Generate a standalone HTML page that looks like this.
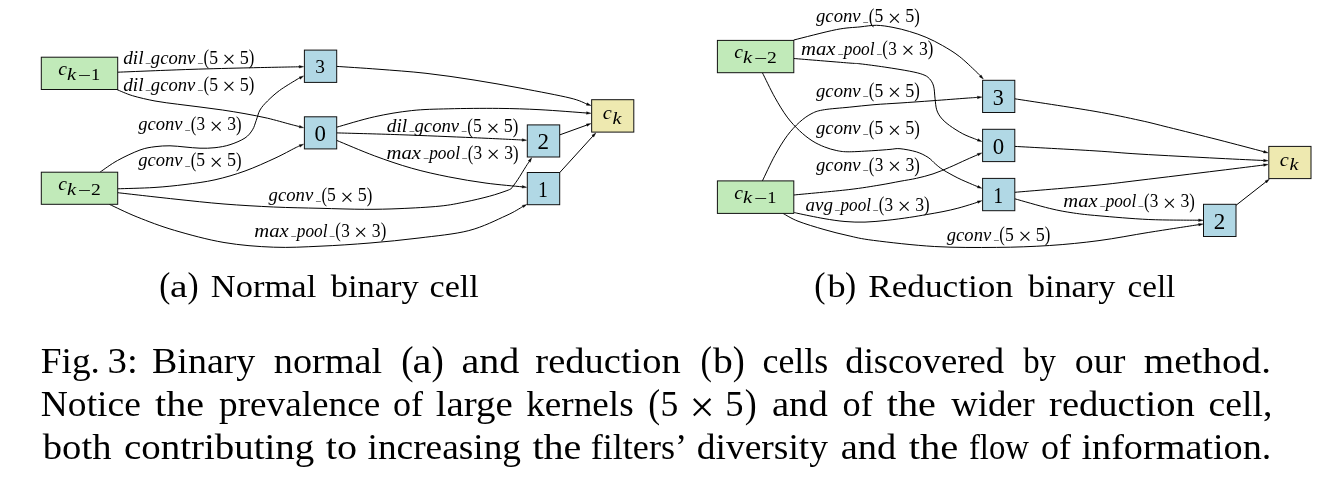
<!DOCTYPE html>
<html><head><meta charset="utf-8"><title>Fig. 3</title>
<style>html,body{margin:0;padding:0;background:#fff;}svg{display:block;will-change:transform;}</style></head>
<body>
<svg width="1334" height="484" viewBox="0 0 1334 484" font-family='"Liberation Serif", serif' fill="#000">
<rect width="1334" height="484" fill="#fff"/>
<path d="M117.70 72.20 C129.75 71.73 167.95 70.13 190.00 69.40 C212.05 68.67 231.80 68.23 250.00 67.80 C268.20 67.37 291.00 66.96 299.20 66.79" fill="none" stroke="#000" stroke-width="1" stroke-linejoin="round"/>
<polygon points="303.60,66.70 299.23,68.04 299.18,65.54" fill="#000" stroke="#000" stroke-width="0.4"/>
<path d="M116.75 89.50 C119.38 90.53 126.12 93.78 132.50 95.70 C138.88 97.62 147.50 99.58 155.00 101.00 C162.50 102.42 170.00 103.20 177.50 104.20 C185.00 105.20 192.50 106.03 200.00 107.00 C207.50 107.97 215.00 108.88 222.50 110.00 C230.00 111.12 237.50 112.33 245.00 113.70 C252.50 115.07 260.00 116.45 267.50 118.20 C275.00 119.95 284.69 122.80 290.00 124.20 C295.31 125.60 297.78 126.20 299.34 126.60" fill="none" stroke="#000" stroke-width="1" stroke-linejoin="round"/>
<polygon points="303.60,127.70 299.03,127.81 299.65,125.39" fill="#000" stroke="#000" stroke-width="0.4"/>
<path d="M100.20 172.00 C103.08 170.08 110.87 164.17 117.50 160.50 C124.13 156.83 133.75 152.30 140.00 150.00 C146.25 147.70 150.00 147.40 155.00 146.70 C160.00 146.00 165.00 145.75 170.00 145.80 C175.00 145.85 180.00 146.60 185.00 147.00 C190.00 147.40 195.00 148.08 200.00 148.20 C205.00 148.32 210.00 148.28 215.00 147.70 C220.00 147.12 225.00 146.32 230.00 144.70 C235.00 143.08 241.25 140.48 245.00 138.00 C248.75 135.52 250.63 132.72 252.50 129.80 C254.37 126.88 254.95 123.80 256.20 120.50 C257.45 117.20 258.12 113.25 260.00 110.00 C261.88 106.75 264.25 104.25 267.50 101.00 C270.75 97.75 274.75 94.00 279.50 90.50 C284.25 87.00 292.63 82.08 296.00 80.00 C299.37 77.92 299.09 78.37 299.71 78.05" fill="none" stroke="#000" stroke-width="1" stroke-linejoin="round"/>
<polygon points="303.60,76.00 300.29,79.16 299.12,76.94" fill="#000" stroke="#000" stroke-width="0.4"/>
<path d="M117.70 188.80 C123.75 188.58 142.78 188.22 154.00 187.50 C165.22 186.78 174.83 185.78 185.00 184.50 C195.17 183.22 205.00 182.05 215.00 179.80 C225.00 177.55 235.00 174.60 245.00 171.00 C255.00 167.40 266.67 162.03 275.00 158.20 C283.33 154.37 290.90 150.04 295.00 148.00 C299.10 145.96 298.81 146.32 299.58 145.98" fill="none" stroke="#000" stroke-width="1" stroke-linejoin="round"/>
<polygon points="303.60,144.20 300.08,147.12 299.07,144.83" fill="#000" stroke="#000" stroke-width="0.4"/>
<path d="M117.70 192.70 C127.08 193.75 156.28 197.12 174.00 199.00 C191.72 200.88 207.40 202.67 224.00 204.00 C240.60 205.33 257.60 206.28 273.60 207.00 C289.60 207.72 304.83 207.92 320.00 208.30 C335.17 208.68 351.27 209.25 364.60 209.30 C377.93 209.35 387.43 209.13 400.00 208.60 C412.57 208.07 429.20 207.20 440.00 206.10 C450.80 205.00 456.53 203.65 464.80 202.00 C473.07 200.35 482.72 198.05 489.60 196.20 C496.48 194.35 502.52 192.13 506.10 190.90 C509.68 189.67 510.27 189.15 511.10 188.80 C512.20 187.28 515.22 183.43 517.70 179.70 C520.18 175.97 524.07 169.43 526.00 166.40 C527.93 163.37 528.72 162.33 529.26 161.51" fill="none" stroke="#000" stroke-width="1" stroke-linejoin="round"/>
<polygon points="531.70,157.85 530.30,162.20 528.22,160.82" fill="#000" stroke="#000" stroke-width="0.4"/>
<path d="M109.30 204.30 C113.95 206.42 126.35 212.67 137.20 217.00 C148.05 221.33 159.93 226.05 174.40 230.30 C188.87 234.55 207.47 239.68 224.00 242.50 C240.53 245.32 257.60 246.58 273.60 247.20 C289.60 247.82 303.93 246.90 320.00 246.20 C336.07 245.50 353.50 244.37 370.00 243.00 C386.50 241.63 402.53 240.07 419.00 238.00 C435.47 235.93 454.30 234.32 468.80 230.60 C483.30 226.88 496.98 219.72 506.00 215.70 C515.02 211.68 520.11 208.03 522.93 206.50" fill="none" stroke="#000" stroke-width="1" stroke-linejoin="round"/>
<polygon points="526.80,204.40 523.53,207.60 522.34,205.40" fill="#000" stroke="#000" stroke-width="0.4"/>
<path d="M336.70 66.40 C343.58 66.87 363.12 68.05 378.00 69.20 C392.88 70.35 410.00 71.50 426.00 73.30 C442.00 75.10 458.00 77.48 474.00 80.00 C490.00 82.52 506.00 85.40 522.00 88.40 C538.00 91.40 559.21 95.40 570.00 98.00 C580.79 100.60 583.97 103.01 586.76 104.01" fill="none" stroke="#000" stroke-width="1" stroke-linejoin="round"/>
<polygon points="590.90,105.50 586.34,105.19 587.18,102.84" fill="#000" stroke="#000" stroke-width="0.4"/>
<path d="M336.70 127.20 C342.98 125.47 361.92 119.57 374.40 116.80 C386.88 114.03 399.20 111.93 411.60 110.60 C424.00 109.27 434.33 109.17 448.80 108.80 C463.27 108.43 483.20 108.25 498.40 108.40 C513.60 108.55 525.31 108.94 540.00 109.70 C554.69 110.46 578.76 112.44 586.51 112.99" fill="none" stroke="#000" stroke-width="1" stroke-linejoin="round"/>
<polygon points="590.90,113.30 586.42,114.24 586.60,111.74" fill="#000" stroke="#000" stroke-width="0.4"/>
<path d="M336.70 132.90 C347.12 133.20 376.38 133.90 399.20 134.70 C422.02 135.50 453.10 136.82 473.60 137.70 C494.10 138.58 514.10 139.61 522.20 139.99" fill="none" stroke="#000" stroke-width="1" stroke-linejoin="round"/>
<polygon points="526.60,140.20 522.15,141.24 522.26,138.74" fill="#000" stroke="#000" stroke-width="0.4"/>
<path d="M336.70 140.40 C342.98 142.97 361.92 151.17 374.40 155.80 C386.88 160.43 399.20 164.68 411.60 168.20 C424.00 171.72 436.40 174.42 448.80 176.90 C461.20 179.38 473.76 181.44 486.00 183.10 C498.24 184.76 516.19 186.22 522.22 186.85" fill="none" stroke="#000" stroke-width="1" stroke-linejoin="round"/>
<polygon points="526.60,187.30 522.09,188.09 522.35,185.60" fill="#000" stroke="#000" stroke-width="0.4"/>
<path d="M559.70 134.90 L586.76 125.10" fill="none" stroke="#000" stroke-width="1" stroke-linejoin="round"/>
<polygon points="590.90,123.60 587.19,126.27 586.34,123.92" fill="#000" stroke="#000" stroke-width="0.4"/>
<path d="M559.70 172.60 L592.84 136.16" fill="none" stroke="#000" stroke-width="1" stroke-linejoin="round"/>
<polygon points="595.80,132.90 593.76,137.00 591.92,135.31" fill="#000" stroke="#000" stroke-width="0.4"/>
<rect x="41.30" y="57.20" width="76.40" height="32.30" fill="#c1eab9" stroke="#111" stroke-width="1"/>
<rect x="41.30" y="172.20" width="76.40" height="32.10" fill="#c1eab9" stroke="#111" stroke-width="1"/>
<rect x="304.40" y="50.10" width="32.30" height="32.30" fill="#b1d8e5" stroke="#111" stroke-width="1"/>
<rect x="304.40" y="116.80" width="32.30" height="32.10" fill="#b1d8e5" stroke="#111" stroke-width="1"/>
<rect x="527.30" y="124.90" width="32.40" height="32.10" fill="#b1d8e5" stroke="#111" stroke-width="1"/>
<rect x="527.30" y="172.50" width="32.40" height="32.20" fill="#b1d8e5" stroke="#111" stroke-width="1"/>
<rect x="591.65" y="99.70" width="42.15" height="32.40" fill="#eee9b0" stroke="#111" stroke-width="1"/>
<text transform="matrix(0.9814 0 0 0.9896 58.21 74.85)" font-size="20" font-style="italic">c</text>
<text transform="matrix(1.0292 0 0 0.8669 66.98 79.70)" font-size="20" font-style="italic">k</text>
<text transform="matrix(1.1720 0 0 0.8500 77.83 80.73)" font-size="20">−</text>
<text transform="matrix(0.9220 0 0 0.8826 91.09 79.70)" font-size="20">1</text>
<text transform="matrix(0.9814 0 0 0.9896 58.21 189.85)" font-size="20" font-style="italic">c</text>
<text transform="matrix(1.0292 0 0 0.8669 66.98 194.70)" font-size="20" font-style="italic">k</text>
<text transform="matrix(1.1720 0 0 0.8500 77.83 195.73)" font-size="20">−</text>
<text transform="matrix(0.9814 0 0 0.8868 90.97 194.80)" font-size="20">2</text>
<text transform="matrix(0.9697 0 0 0.9591 315.33 73.21)" font-size="20">3</text>
<text transform="matrix(1.1412 0 0 1.1481 314.54 141.47)" font-size="20">0</text>
<text transform="matrix(1.1553 0 0 1.1396 537.57 149.40)" font-size="20">2</text>
<text transform="matrix(0.9929 0 0 1.1477 537.96 197.05)" font-size="20">1</text>
<text transform="matrix(1.0186 0 0 0.9792 602.69 118.80)" font-size="20" font-style="italic">c</text>
<text transform="matrix(1.0058 0 0 0.8417 612.40 123.70)" font-size="20" font-style="italic">k</text>
<text transform="matrix(1.0788 0 0 1 123.18 63.66)" font-size="17.9" font-style="italic">dil</text>
<text transform="matrix(0.4772 0 0 0.8500 145.80 62.15)" font-size="20" fill="#666">_</text>
<text transform="matrix(1.0398 0 0 1 150.84 63.66)" font-size="17.9" font-style="italic">gconv</text>
<text transform="matrix(0.4772 0 0 0.8500 198.00 62.15)" font-size="20" fill="#666">_</text>
<text transform="matrix(0.8350 0 0 1.0468 203.44 64.41)" font-size="20">(</text>
<text transform="matrix(0.8820 0 0 0.9361 209.14 63.72)" font-size="20">5</text>
<text transform="matrix(1.1852 0 0 1.1534 222.25 67.16)" font-size="20">×</text>
<text transform="matrix(0.9068 0 0 0.9361 239.81 63.72)" font-size="20">5</text>
<text transform="matrix(0.8350 0 0 1.0468 248.81 64.41)" font-size="20">)</text>
<text transform="matrix(1.0788 0 0 1 123.18 90.60)" font-size="17.9" font-style="italic">dil</text>
<text transform="matrix(0.4772 0 0 0.8500 145.80 89.09)" font-size="20" fill="#666">_</text>
<text transform="matrix(1.0398 0 0 1 150.84 90.60)" font-size="17.9" font-style="italic">gconv</text>
<text transform="matrix(0.4772 0 0 0.8500 198.00 89.09)" font-size="20" fill="#666">_</text>
<text transform="matrix(0.8350 0 0 1.0468 203.44 91.35)" font-size="20">(</text>
<text transform="matrix(0.8820 0 0 0.9361 209.14 90.66)" font-size="20">5</text>
<text transform="matrix(1.1852 0 0 1.1534 222.25 94.10)" font-size="20">×</text>
<text transform="matrix(0.9068 0 0 0.9361 239.81 90.66)" font-size="20">5</text>
<text transform="matrix(0.8350 0 0 1.0468 248.81 91.35)" font-size="20">)</text>
<text transform="matrix(1.0372 0 0 1 138.20 130.30)" font-size="17.9" font-style="italic">gconv</text>
<text transform="matrix(0.4760 0 0 0.8500 185.24 128.79)" font-size="20" fill="#666">_</text>
<text transform="matrix(0.8350 0 0 1.0468 190.67 131.05)" font-size="20">(</text>
<text transform="matrix(0.8606 0 0 0.9257 196.56 130.36)" font-size="20">3</text>
<text transform="matrix(1.1852 0 0 1.1534 209.48 133.80)" font-size="20">×</text>
<text transform="matrix(0.8848 0 0 0.9257 227.24 130.36)" font-size="20">3</text>
<text transform="matrix(0.8350 0 0 1.0468 236.03 131.05)" font-size="20">)</text>
<text transform="matrix(1.0372 0 0 1 138.20 166.30)" font-size="17.9" font-style="italic">gconv</text>
<text transform="matrix(0.4760 0 0 0.8500 185.24 164.79)" font-size="20" fill="#666">_</text>
<text transform="matrix(0.8350 0 0 1.0468 190.67 167.05)" font-size="20">(</text>
<text transform="matrix(0.8820 0 0 0.9361 196.36 166.36)" font-size="20">5</text>
<text transform="matrix(1.1852 0 0 1.1534 209.48 169.80)" font-size="20">×</text>
<text transform="matrix(0.9068 0 0 0.9361 227.03 166.36)" font-size="20">5</text>
<text transform="matrix(0.8350 0 0 1.0468 236.03 167.05)" font-size="20">)</text>
<text transform="matrix(1.0834 0 0 1 386.72 132.00)" font-size="17.9" font-style="italic">dil</text>
<text transform="matrix(0.4792 0 0 0.8500 409.43 130.49)" font-size="20" fill="#666">_</text>
<text transform="matrix(1.0443 0 0 1 414.50 132.00)" font-size="17.9" font-style="italic">gconv</text>
<text transform="matrix(0.4792 0 0 0.8500 461.86 130.49)" font-size="20" fill="#666">_</text>
<text transform="matrix(0.8350 0 0 1.0468 467.33 132.75)" font-size="20">(</text>
<text transform="matrix(0.8820 0 0 0.9361 473.02 132.06)" font-size="20">5</text>
<text transform="matrix(1.1852 0 0 1.1534 486.14 135.50)" font-size="20">×</text>
<text transform="matrix(0.9068 0 0 0.9361 503.69 132.06)" font-size="20">5</text>
<text transform="matrix(0.8350 0 0 1.0468 512.69 132.75)" font-size="20">)</text>
<text transform="matrix(1.1566 0 0 1 386.58 158.80)" font-size="17.9" font-style="italic">max</text>
<text transform="matrix(0.4785 0 0 0.8500 423.63 157.29)" font-size="20" fill="#666">_</text>
<text transform="matrix(0.9672 0 0 1 429.18 158.80)" font-size="17.9" font-style="italic">pool</text>
<text transform="matrix(0.4785 0 0 0.8500 462.25 157.29)" font-size="20" fill="#666">_</text>
<text transform="matrix(0.8350 0 0 1.0468 467.71 159.55)" font-size="20">(</text>
<text transform="matrix(0.8606 0 0 0.9257 473.60 158.86)" font-size="20">3</text>
<text transform="matrix(1.1852 0 0 1.1534 486.52 162.30)" font-size="20">×</text>
<text transform="matrix(0.8848 0 0 0.9257 504.27 158.86)" font-size="20">3</text>
<text transform="matrix(0.8350 0 0 1.0468 513.07 159.55)" font-size="20">)</text>
<text transform="matrix(1.0442 0 0 1 268.60 201.30)" font-size="17.9" font-style="italic">gconv</text>
<text transform="matrix(0.4792 0 0 0.8500 315.96 199.79)" font-size="20" fill="#666">_</text>
<text transform="matrix(0.8350 0 0 1.0468 321.43 202.05)" font-size="20">(</text>
<text transform="matrix(0.8820 0 0 0.9361 327.12 201.36)" font-size="20">5</text>
<text transform="matrix(1.1852 0 0 1.1534 340.24 204.80)" font-size="20">×</text>
<text transform="matrix(0.9068 0 0 0.9361 357.80 201.36)" font-size="20">5</text>
<text transform="matrix(0.8350 0 0 1.0468 366.80 202.05)" font-size="20">)</text>
<text transform="matrix(1.1548 0 0 1 254.28 236.60)" font-size="17.9" font-style="italic">max</text>
<text transform="matrix(0.4777 0 0 0.8500 291.27 235.09)" font-size="20" fill="#666">_</text>
<text transform="matrix(0.9657 0 0 1 296.82 236.60)" font-size="17.9" font-style="italic">pool</text>
<text transform="matrix(0.4777 0 0 0.8500 329.84 235.09)" font-size="20" fill="#666">_</text>
<text transform="matrix(0.8350 0 0 1.0468 335.28 237.35)" font-size="20">(</text>
<text transform="matrix(0.8606 0 0 0.9257 341.17 236.66)" font-size="20">3</text>
<text transform="matrix(1.1852 0 0 1.1534 354.09 240.10)" font-size="20">×</text>
<text transform="matrix(0.8848 0 0 0.9257 371.85 236.66)" font-size="20">3</text>
<text transform="matrix(0.8350 0 0 1.0468 380.65 237.35)" font-size="20">)</text>
<path d="M793.80 40.00 C800.90 38.27 825.37 31.78 836.40 29.60 C847.43 27.42 853.32 27.62 860.00 26.90 C866.68 26.18 871.00 25.22 876.50 25.30 C882.00 25.38 887.48 26.37 893.00 27.40 C898.52 28.43 904.08 29.85 909.60 31.50 C915.12 33.15 920.60 34.95 926.10 37.30 C931.60 39.65 937.08 42.43 942.60 45.60 C948.12 48.77 953.68 52.03 959.20 56.30 C964.72 60.57 972.20 67.96 975.70 71.20 C979.20 74.44 979.46 75.01 980.21 75.77" fill="none" stroke="#000" stroke-width="1" stroke-linejoin="round"/>
<polygon points="983.30,78.90 979.32,76.65 981.10,74.89" fill="#000" stroke="#000" stroke-width="0.4"/>
<path d="M793.80 58.50 C802.97 59.25 837.77 62.12 848.80 63.00 C859.83 63.88 854.00 63.12 860.00 63.80 C866.00 64.48 876.53 65.87 884.80 67.10 C893.07 68.33 903.27 69.97 909.60 71.20 C915.93 72.43 919.50 73.27 922.80 74.50 C926.10 75.73 927.60 76.67 929.40 78.60 C931.20 80.53 932.67 82.83 933.60 86.10 C934.53 89.37 934.48 94.25 935.00 98.20 C935.52 102.15 935.65 106.50 936.70 109.80 C937.75 113.10 939.15 115.38 941.30 118.00 C943.45 120.62 946.02 122.87 949.60 125.50 C953.18 128.13 958.67 131.60 962.80 133.80 C966.93 136.00 971.92 137.68 974.40 138.70 C976.88 139.72 977.14 139.74 977.68 139.94" fill="none" stroke="#000" stroke-width="1" stroke-linejoin="round"/>
<polygon points="981.80,141.50 977.24,141.11 978.13,138.77" fill="#000" stroke="#000" stroke-width="0.4"/>
<path d="M762.40 72.70 C764.47 76.80 770.67 89.90 774.80 97.30 C778.93 104.70 783.07 111.52 787.20 117.10 C791.33 122.68 795.47 126.87 799.60 130.80 C803.73 134.73 807.87 138.02 812.00 140.70 C816.13 143.38 820.27 145.25 824.40 146.90 C828.53 148.55 832.67 149.78 836.80 150.60 C840.93 151.42 843.00 151.80 849.20 151.80 C855.40 151.80 867.20 151.00 874.00 150.60 C880.80 150.20 885.67 149.72 890.00 149.40 C894.33 149.08 895.58 148.28 900.00 148.70 C904.42 149.12 911.82 150.45 916.50 151.90 C921.18 153.35 924.93 155.38 928.10 157.40 C931.27 159.42 933.02 161.94 935.50 164.00 C937.98 166.06 939.27 167.42 943.00 169.75 C946.73 172.08 952.90 175.53 957.85 178.00 C962.80 180.47 969.39 183.16 972.70 184.60 C976.01 186.04 976.89 186.30 977.72 186.64" fill="none" stroke="#000" stroke-width="1" stroke-linejoin="round"/>
<polygon points="981.80,188.30 977.25,187.80 978.19,185.48" fill="#000" stroke="#000" stroke-width="0.4"/>
<path d="M762.40 180.90 C764.47 176.68 770.67 163.13 774.80 155.60 C778.93 148.07 783.07 141.28 787.20 135.70 C791.33 130.12 795.47 125.82 799.60 122.10 C803.73 118.38 807.87 115.47 812.00 113.40 C816.13 111.33 818.20 110.73 824.40 109.70 C830.60 108.67 840.93 108.03 849.20 107.20 C857.47 106.37 865.53 105.40 874.00 104.70 C882.47 104.00 890.17 103.67 900.00 103.00 C909.83 102.33 922.00 101.50 933.00 100.70 C944.00 99.90 958.60 98.75 966.00 98.20 C973.40 97.65 975.51 97.54 977.41 97.41" fill="none" stroke="#000" stroke-width="1" stroke-linejoin="round"/>
<polygon points="981.80,97.10 977.50,98.65 977.32,96.16" fill="#000" stroke="#000" stroke-width="0.4"/>
<path d="M793.80 195.00 C802.97 194.10 834.43 191.27 848.80 189.60 C863.17 187.93 871.47 186.38 880.00 185.00 C888.53 183.62 893.92 182.42 900.00 181.30 C906.08 180.18 911.00 179.53 916.50 178.30 C922.00 177.07 927.48 175.73 933.00 173.90 C938.52 172.07 944.08 169.65 949.60 167.30 C955.12 164.95 961.40 161.90 966.10 159.80 C970.80 157.70 975.83 155.53 977.77 154.67" fill="none" stroke="#000" stroke-width="1" stroke-linejoin="round"/>
<polygon points="981.80,152.90 978.27,155.81 977.27,153.53" fill="#000" stroke="#000" stroke-width="0.4"/>
<path d="M793.80 212.00 C794.50 212.23 792.97 212.30 798.00 213.40 C803.03 214.50 816.17 217.25 824.00 218.60 C831.83 219.95 838.17 220.92 845.00 221.50 C851.83 222.08 857.97 222.30 865.00 222.10 C872.03 221.90 879.78 221.08 887.20 220.30 C894.62 219.52 902.98 218.35 909.50 217.40 C916.02 216.45 920.72 215.57 926.30 214.60 C931.88 213.63 937.74 212.67 943.00 211.60 C948.26 210.53 952.90 209.50 957.85 208.20 C962.80 206.90 969.40 204.81 972.70 203.80 C976.00 202.79 976.81 202.40 977.64 202.12" fill="none" stroke="#000" stroke-width="1" stroke-linejoin="round"/>
<polygon points="981.80,200.70 978.04,203.30 977.23,200.94" fill="#000" stroke="#000" stroke-width="0.4"/>
<path d="M783.00 213.40 C785.50 214.70 791.17 218.52 798.00 221.20 C804.83 223.88 815.67 227.10 824.00 229.50 C832.33 231.90 839.73 233.78 848.00 235.60 C856.27 237.42 859.20 238.58 873.60 240.40 C888.00 242.22 913.93 245.33 934.40 246.50 C954.87 247.67 977.20 247.57 996.40 247.40 C1015.60 247.23 1032.50 246.63 1049.60 245.50 C1066.70 244.37 1082.47 242.78 1099.00 240.60 C1115.53 238.42 1132.19 235.05 1148.80 232.40 C1165.41 229.75 1190.34 225.96 1198.65 224.67" fill="none" stroke="#000" stroke-width="1" stroke-linejoin="round"/>
<polygon points="1203.00,224.00 1198.84,225.91 1198.46,223.44" fill="#000" stroke="#000" stroke-width="0.4"/>
<path d="M1014.80 98.80 C1028.00 100.87 1073.13 107.60 1094.00 111.20 C1114.87 114.80 1127.60 117.72 1140.00 120.40 C1152.40 123.08 1155.40 124.08 1168.40 127.30 C1181.40 130.52 1202.11 135.64 1218.00 139.70 C1233.89 143.76 1256.12 149.69 1263.74 151.68" fill="none" stroke="#000" stroke-width="1" stroke-linejoin="round"/>
<polygon points="1268.00,152.80 1263.43,152.89 1264.06,150.48" fill="#000" stroke="#000" stroke-width="0.4"/>
<path d="M1014.80 146.40 C1028.00 147.13 1073.13 149.52 1094.00 150.80 C1114.87 152.08 1119.33 152.85 1140.00 154.10 C1160.67 155.35 1197.40 157.24 1218.00 158.30 C1238.60 159.36 1256.00 160.12 1263.61 160.49" fill="none" stroke="#000" stroke-width="1" stroke-linejoin="round"/>
<polygon points="1268.00,160.70 1263.55,161.74 1263.66,159.24" fill="#000" stroke="#000" stroke-width="0.4"/>
<path d="M1014.80 192.30 C1028.00 191.17 1073.13 187.52 1094.00 185.50 C1114.87 183.48 1119.33 182.67 1140.00 180.20 C1160.67 177.73 1197.39 173.23 1218.00 170.70 C1238.61 168.17 1256.03 165.98 1263.63 165.04" fill="none" stroke="#000" stroke-width="1" stroke-linejoin="round"/>
<polygon points="1268.00,164.50 1263.79,166.28 1263.48,163.80" fill="#000" stroke="#000" stroke-width="0.4"/>
<path d="M1014.80 198.80 C1020.60 200.40 1039.80 206.03 1049.60 208.40 C1059.40 210.77 1065.37 211.77 1073.60 213.00 C1081.83 214.23 1086.47 214.72 1099.00 215.80 C1111.53 216.88 1132.20 218.76 1148.80 219.50 C1165.40 220.24 1190.30 220.11 1198.60 220.24" fill="none" stroke="#000" stroke-width="1" stroke-linejoin="round"/>
<polygon points="1203.00,220.30 1198.58,221.48 1198.62,218.99" fill="#000" stroke="#000" stroke-width="0.4"/>
<path d="M1236.00 205.30 L1265.84 181.91" fill="none" stroke="#000" stroke-width="1" stroke-linejoin="round"/>
<polygon points="1269.30,179.20 1266.61,182.90 1265.07,180.93" fill="#000" stroke="#000" stroke-width="0.4"/>
<rect x="717.40" y="40.40" width="76.40" height="32.30" fill="#c1eab9" stroke="#111" stroke-width="1"/>
<rect x="717.40" y="180.90" width="76.40" height="32.50" fill="#c1eab9" stroke="#111" stroke-width="1"/>
<rect x="982.60" y="80.30" width="32.20" height="32.20" fill="#b1d8e5" stroke="#111" stroke-width="1"/>
<rect x="982.60" y="129.30" width="32.20" height="32.30" fill="#b1d8e5" stroke="#111" stroke-width="1"/>
<rect x="982.60" y="178.40" width="32.20" height="32.30" fill="#b1d8e5" stroke="#111" stroke-width="1"/>
<rect x="1203.50" y="204.30" width="32.50" height="32.20" fill="#b1d8e5" stroke="#111" stroke-width="1"/>
<rect x="1268.80" y="146.40" width="42.20" height="32.20" fill="#eee9b0" stroke="#111" stroke-width="1"/>
<text transform="matrix(0.9814 0 0 0.9896 734.31 58.05)" font-size="20" font-style="italic">c</text>
<text transform="matrix(1.0292 0 0 0.8669 743.08 62.90)" font-size="20" font-style="italic">k</text>
<text transform="matrix(1.1720 0 0 0.8500 753.93 63.93)" font-size="20">−</text>
<text transform="matrix(0.9814 0 0 0.8868 767.07 63.00)" font-size="20">2</text>
<text transform="matrix(0.9814 0 0 0.9896 734.31 198.55)" font-size="20" font-style="italic">c</text>
<text transform="matrix(1.0292 0 0 0.8669 743.08 203.40)" font-size="20" font-style="italic">k</text>
<text transform="matrix(1.1720 0 0 0.8500 753.93 204.43)" font-size="20">−</text>
<text transform="matrix(0.9220 0 0 0.8826 767.19 203.40)" font-size="20">1</text>
<text transform="matrix(1.1030 0 0 1.1524 992.80 104.97)" font-size="20">3</text>
<text transform="matrix(1.1412 0 0 1.1481 992.69 153.97)" font-size="20">0</text>
<text transform="matrix(0.9929 0 0 1.1477 993.16 202.95)" font-size="20">1</text>
<text transform="matrix(1.1553 0 0 1.1396 1213.82 228.80)" font-size="20">2</text>
<text transform="matrix(1.0186 0 0 0.9792 1279.84 165.50)" font-size="20" font-style="italic">c</text>
<text transform="matrix(1.0058 0 0 0.8417 1289.55 170.40)" font-size="20" font-style="italic">k</text>
<text transform="matrix(1.0442 0 0 1 816.00 22.10)" font-size="17.9" font-style="italic">gconv</text>
<text transform="matrix(0.4792 0 0 0.8500 863.36 20.59)" font-size="20" fill="#666">_</text>
<text transform="matrix(0.8350 0 0 1.0468 868.83 22.85)" font-size="20">(</text>
<text transform="matrix(0.8820 0 0 0.9361 874.52 22.16)" font-size="20">5</text>
<text transform="matrix(1.1852 0 0 1.1534 887.64 25.60)" font-size="20">×</text>
<text transform="matrix(0.9068 0 0 0.9361 905.20 22.16)" font-size="20">5</text>
<text transform="matrix(0.8350 0 0 1.0468 914.20 22.85)" font-size="20">)</text>
<text transform="matrix(1.1601 0 0 1 800.97 54.50)" font-size="17.9" font-style="italic">max</text>
<text transform="matrix(0.4799 0 0 0.8500 838.14 52.99)" font-size="20" fill="#666">_</text>
<text transform="matrix(0.9702 0 0 1 843.71 54.50)" font-size="17.9" font-style="italic">pool</text>
<text transform="matrix(0.4799 0 0 0.8500 876.88 52.99)" font-size="20" fill="#666">_</text>
<text transform="matrix(0.8350 0 0 1.0468 882.35 55.25)" font-size="20">(</text>
<text transform="matrix(0.8606 0 0 0.9257 888.25 54.56)" font-size="20">3</text>
<text transform="matrix(1.1852 0 0 1.1534 901.17 58.00)" font-size="20">×</text>
<text transform="matrix(0.8848 0 0 0.9257 918.92 54.56)" font-size="20">3</text>
<text transform="matrix(0.8350 0 0 1.0468 927.72 55.25)" font-size="20">)</text>
<text transform="matrix(1.0442 0 0 1 816.00 96.70)" font-size="17.9" font-style="italic">gconv</text>
<text transform="matrix(0.4792 0 0 0.8500 863.36 95.19)" font-size="20" fill="#666">_</text>
<text transform="matrix(0.8350 0 0 1.0468 868.83 97.45)" font-size="20">(</text>
<text transform="matrix(0.8820 0 0 0.9361 874.52 96.76)" font-size="20">5</text>
<text transform="matrix(1.1852 0 0 1.1534 887.64 100.20)" font-size="20">×</text>
<text transform="matrix(0.9068 0 0 0.9361 905.20 96.76)" font-size="20">5</text>
<text transform="matrix(0.8350 0 0 1.0468 914.20 97.45)" font-size="20">)</text>
<text transform="matrix(1.0442 0 0 1 816.00 134.40)" font-size="17.9" font-style="italic">gconv</text>
<text transform="matrix(0.4792 0 0 0.8500 863.36 132.89)" font-size="20" fill="#666">_</text>
<text transform="matrix(0.8350 0 0 1.0468 868.83 135.15)" font-size="20">(</text>
<text transform="matrix(0.8820 0 0 0.9361 874.52 134.46)" font-size="20">5</text>
<text transform="matrix(1.1852 0 0 1.1534 887.64 137.90)" font-size="20">×</text>
<text transform="matrix(0.9068 0 0 0.9361 905.20 134.46)" font-size="20">5</text>
<text transform="matrix(0.8350 0 0 1.0468 914.20 135.15)" font-size="20">)</text>
<text transform="matrix(1.0442 0 0 1 816.00 170.80)" font-size="17.9" font-style="italic">gconv</text>
<text transform="matrix(0.4792 0 0 0.8500 863.36 169.29)" font-size="20" fill="#666">_</text>
<text transform="matrix(0.8350 0 0 1.0468 868.83 171.55)" font-size="20">(</text>
<text transform="matrix(0.8606 0 0 0.9257 874.72 170.86)" font-size="20">3</text>
<text transform="matrix(1.1852 0 0 1.1534 887.64 174.30)" font-size="20">×</text>
<text transform="matrix(0.8848 0 0 0.9257 905.40 170.86)" font-size="20">3</text>
<text transform="matrix(0.8350 0 0 1.0468 914.20 171.55)" font-size="20">)</text>
<text transform="matrix(1.0637 0 0 1 805.43 210.70)" font-size="17.9" font-style="italic">avg</text>
<text transform="matrix(0.4734 0 0 0.8500 835.03 209.19)" font-size="20" fill="#666">_</text>
<text transform="matrix(0.9570 0 0 1 840.52 210.70)" font-size="17.9" font-style="italic">pool</text>
<text transform="matrix(0.4734 0 0 0.8500 873.24 209.19)" font-size="20" fill="#666">_</text>
<text transform="matrix(0.8350 0 0 1.0468 878.63 211.45)" font-size="20">(</text>
<text transform="matrix(0.8606 0 0 0.9257 884.52 210.76)" font-size="20">3</text>
<text transform="matrix(1.1852 0 0 1.1534 897.44 214.20)" font-size="20">×</text>
<text transform="matrix(0.8848 0 0 0.9257 915.20 210.76)" font-size="20">3</text>
<text transform="matrix(0.8350 0 0 1.0468 924.00 211.45)" font-size="20">)</text>
<text transform="matrix(1.1504 0 0 1 1063.28 207.00)" font-size="17.9" font-style="italic">max</text>
<text transform="matrix(0.4759 0 0 0.8500 1100.14 205.49)" font-size="20" fill="#666">_</text>
<text transform="matrix(0.9620 0 0 1 1105.66 207.00)" font-size="17.9" font-style="italic">pool</text>
<text transform="matrix(0.4759 0 0 0.8500 1138.55 205.49)" font-size="20" fill="#666">_</text>
<text transform="matrix(0.8350 0 0 1.0468 1143.97 207.75)" font-size="20">(</text>
<text transform="matrix(0.8606 0 0 0.9257 1149.86 207.06)" font-size="20">3</text>
<text transform="matrix(1.1852 0 0 1.1534 1162.78 210.50)" font-size="20">×</text>
<text transform="matrix(0.8848 0 0 0.9257 1180.54 207.06)" font-size="20">3</text>
<text transform="matrix(0.8350 0 0 1.0468 1189.34 207.75)" font-size="20">)</text>
<text transform="matrix(1.0392 0 0 1 946.80 240.70)" font-size="17.9" font-style="italic">gconv</text>
<text transform="matrix(0.4769 0 0 0.8500 993.94 239.19)" font-size="20" fill="#666">_</text>
<text transform="matrix(0.8350 0 0 1.0468 999.37 241.45)" font-size="20">(</text>
<text transform="matrix(0.8820 0 0 0.9361 1005.07 240.76)" font-size="20">5</text>
<text transform="matrix(1.1852 0 0 1.1534 1018.18 244.20)" font-size="20">×</text>
<text transform="matrix(0.9068 0 0 0.9361 1035.74 240.76)" font-size="20">5</text>
<text transform="matrix(0.8350 0 0 1.0468 1044.74 241.45)" font-size="20">)</text>
<text transform="matrix(1.6602 0 0 1.7851 159.34 297.41)" font-size="20">(</text>
<text transform="matrix(1.2538 0 0 1 170.12 296.90)" font-size="31.5">a</text>
<text transform="matrix(1.6699 0 0 1.7851 187.61 297.41)" font-size="20">)</text>
<text transform="matrix(1.0957 0 0 1 210.85 296.90)" font-size="31.5">Normal</text>
<text transform="matrix(1.0932 0 0 1 330.80 296.90)" font-size="31.5">binary</text>
<text transform="matrix(1.0842 0 0 1 429.52 296.90)" font-size="31.5">cell</text>
<text transform="matrix(1.6893 0 0 1.7851 814.36 297.41)" font-size="20">(</text>
<text transform="matrix(1.1532 0 0 1 827.50 296.90)" font-size="31.5">b</text>
<text transform="matrix(1.6699 0 0 1.7851 845.11 297.41)" font-size="20">)</text>
<text transform="matrix(1.1184 0 0 1 868.23 296.90)" font-size="31.5">Reduction</text>
<text transform="matrix(1.0858 0 0 1 1027.90 296.90)" font-size="31.5">binary</text>
<text transform="matrix(1.0521 0 0 1 1127.46 296.90)" font-size="31.5">cell</text>
<text transform="matrix(1.0663 0 0 1 40.77 373.00)" font-size="35">Fig.</text>
<text transform="matrix(1.1121 0 0 1 107.45 373.00)" font-size="35">3:</text>
<text transform="matrix(1.0845 0 0 1 152.06 373.00)" font-size="35">Binary</text>
<text transform="matrix(1.0947 0 0 1 273.74 373.00)" font-size="35">normal</text>
<text transform="matrix(1.8447 0 0 1.9835 401.13 373.57)" font-size="20">(</text>
<text transform="matrix(1.2224 0 0 1 412.60 373.00)" font-size="35">a</text>
<text transform="matrix(1.8447 0 0 1.9835 431.40 373.57)" font-size="20">)</text>
<text transform="matrix(1.1449 0 0 1 461.50 373.00)" font-size="35">and</text>
<text transform="matrix(1.1001 0 0 1 535.33 373.00)" font-size="35">reduction</text>
<text transform="matrix(1.7184 0 0 1.9835 700.39 373.57)" font-size="20">(</text>
<text transform="matrix(1.1305 0 0 1 713.00 373.00)" font-size="35">b</text>
<text transform="matrix(1.7961 0 0 1.9835 732.68 373.57)" font-size="20">)</text>
<text transform="matrix(1.0258 0 0 1 762.45 373.00)" font-size="35">cells</text>
<text transform="matrix(1.0468 0 0 1 845.32 373.00)" font-size="35">discovered</text>
<text transform="matrix(0.9366 0 0 1 1023.20 373.00)" font-size="35">by</text>
<text transform="matrix(1.0852 0 0 1 1074.68 373.00)" font-size="35">our</text>
<text transform="matrix(1.1176 0 0 1 1143.82 373.00)" font-size="35">method.</text>
<text transform="matrix(1.0727 0 0 1 40.77 416.00)" font-size="35">Notice</text>
<text transform="matrix(1.1453 0 0 1 155.10 416.00)" font-size="35">the</text>
<text transform="matrix(1.0641 0 0 1 219.04 416.00)" font-size="35">prevalence</text>
<text transform="matrix(1.0314 0 0 1 392.95 416.00)" font-size="35">of</text>
<text transform="matrix(1.1117 0 0 1 435.72 416.00)" font-size="35">large</text>
<text transform="matrix(1.0631 0 0 1 526.26 416.00)" font-size="35">kernels</text>
<text transform="matrix(1.7864 0 0 1.9835 648.28 416.57)" font-size="20">(</text>
<text transform="matrix(1.7764 0 0 1.7669 660.56 416.15)" font-size="20">5</text>
<text transform="matrix(2.2346 0 0 2.1718 689.42 422.25)" font-size="20">×</text>
<text transform="matrix(1.8261 0 0 1.7669 725.30 416.15)" font-size="20">5</text>
<text transform="matrix(1.7961 0 0 1.9835 744.83 416.57)" font-size="20">)</text>
<text transform="matrix(1.1040 0 0 1 771.95 416.00)" font-size="35">and</text>
<text transform="matrix(1.0386 0 0 1 842.54 416.00)" font-size="35">of</text>
<text transform="matrix(1.1501 0 0 1 886.70 416.00)" font-size="35">the</text>
<text transform="matrix(1.0485 0 0 1 951.30 416.00)" font-size="35">wider</text>
<text transform="matrix(1.1024 0 0 1 1049.03 416.00)" font-size="35">reduction</text>
<text transform="matrix(1.0765 0 0 1 1208.59 416.00)" font-size="35">cell,</text>
<text transform="matrix(1.1040 0 0 1 42.80 459.00)" font-size="35">both</text>
<text transform="matrix(1.1115 0 0 1 124.04 459.00)" font-size="35">contributing</text>
<text transform="matrix(1.1468 0 0 1 325.80 459.00)" font-size="35">to</text>
<text transform="matrix(1.0670 0 0 1 367.55 459.00)" font-size="35">increasing</text>
<text transform="matrix(1.1453 0 0 1 532.40 459.00)" font-size="35">the</text>
<text transform="matrix(1.0326 0 0 1 590.72 459.00)" font-size="35">filters’</text>
<text transform="matrix(1.0727 0 0 1 696.69 459.00)" font-size="35">diversity</text>
<text transform="matrix(1.0979 0 0 1 840.66 459.00)" font-size="35">and</text>
<text transform="matrix(1.1598 0 0 1 908.79 459.00)" font-size="35">the</text>
<text transform="matrix(0.9378 0 0 1 968.92 459.00)" font-size="35">flow</text>
<text transform="matrix(1.0279 0 0 1 1041.05 459.00)" font-size="35">of</text>
<text transform="matrix(1.0920 0 0 1 1081.44 459.00)" font-size="35">information.</text>
</svg>
</body></html>
